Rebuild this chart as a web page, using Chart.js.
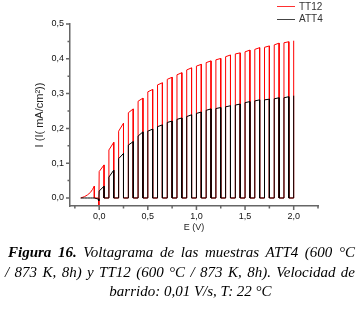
<!DOCTYPE html>
<html><head><meta charset="utf-8">
<script src="https://cdn.jsdelivr.net/npm/chart.js@4/dist/chart.umd.min.js"></script>
<style>
html,body{margin:0;padding:0;background:#fff;}
#wrap{position:relative;width:359px;height:310px;overflow:hidden;background:#fff;}
canvas{position:absolute;left:0;top:0;}
.leg{position:absolute;font-family:"Liberation Sans",Arial,sans-serif;font-size:10px;color:#333;line-height:12px;white-space:nowrap;}
.legline{position:absolute;height:0;border-top:1px solid;}
.xt{position:absolute;font-family:"Liberation Sans",Arial,sans-serif;font-size:9px;color:#222;line-height:12px;text-align:center;white-space:nowrap;}
.cap{position:absolute;font-family:"Liberation Serif","Times New Roman",serif;font-style:italic;font-size:15px;line-height:20px;color:#000;white-space:nowrap;}
.just{text-align:justify;text-align-last:justify;}
</style></head>
<body><div id="wrap">
<canvas id="c" width="359" height="240"></canvas>
<div class="legline" style="left:277px;top:6px;width:18px;border-color:#ff3030"></div>
<div class="leg" style="left:299px;top:1px">TT12</div>
<div class="legline" style="left:277px;top:19px;width:18px;border-color:#444"></div>
<div class="leg" style="left:299px;top:13px">ATT4</div>
<div class="xt" id="xtitle" style="left:0;top:221px;width:388px">E (V)</div>
<div class="cap just" style="left:8px;top:242px;width:347px"><b>Figura 16.</b> Voltagrama de las muestras ATT4 (600 °C</div>
<div class="cap just" style="left:5px;top:262px;width:350px">/ 873 K, 8h) y TT12 (600 °C / 873 K, 8h). Velocidad de</div>
<div class="cap" style="left:0;top:281px;width:381px;text-align:center">barrido: 0,01 V/s, T: 22 °C</div>
</div>
<script>
// ---- data ----
const seriesNames = ['TT12', 'ATT4'];
// initial segment before the first light pulse
const initE     = [-0.19, -0.15, -0.12, -0.09, -0.07, -0.05, -0.05, -0.01, -0.003];
const tt12Init  = [0.0, 0.004, 0.009, 0.016, 0.024, 0.034, 0.0, 0.0, -0.02];
const att4Init  = [0.0, 0.0, 0.0, 0.0, 0.0, 0.0, 0.0, -0.003, -0.008];
// potentials where the light is switched on / off
const onE  = [0.0, 0.1, 0.2, 0.3, 0.4, 0.5, 0.6, 0.7, 0.8, 0.9, 1.0, 1.1, 1.2, 1.3, 1.4, 1.5, 1.6, 1.7, 1.8, 1.9, 2.0];
const offE = [0.05, 0.15, 0.25, 0.35, 0.45, 0.55, 0.65, 0.75, 0.85, 0.95, 1.05, 1.15, 1.25, 1.35, 1.45, 1.55, 1.65, 1.75, 1.85, 1.95];
// photocurrent at start / end of each light pulse
const tt12On  = [0.076, 0.138, 0.192, 0.245, 0.278, 0.305, 0.325, 0.341, 0.354, 0.368, 0.379, 0.389, 0.397, 0.406, 0.414, 0.420, 0.427, 0.433, 0.440, 0.446, 0.452];
const tt12Off = [0.095, 0.160, 0.215, 0.256, 0.287, 0.312, 0.331, 0.347, 0.360, 0.374, 0.384, 0.394, 0.401, 0.411, 0.417, 0.425, 0.432, 0.437, 0.445, 0.449];
const att4On  = [0.020, 0.060, 0.113, 0.152, 0.178, 0.192, 0.205, 0.217, 0.226, 0.234, 0.243, 0.252, 0.257, 0.262, 0.267, 0.274, 0.279, 0.282, 0.285, 0.288, 0.294];
const att4Off = [0.034, 0.080, 0.128, 0.162, 0.190, 0.198, 0.210, 0.221, 0.230, 0.239, 0.247, 0.256, 0.260, 0.265, 0.270, 0.277, 0.282, 0.284, 0.288, 0.291];
const darkLevel = 0.0;
// ticks
const xMajor = [0.0, 0.5, 1.0, 1.5, 2.0];
const xTickLabels = ['0,0', '0,5', '1,0', '1,5', '2,0'];
const xMinor = [-0.25, 0.25, 0.75, 1.25, 1.75, 2.25];
const yMajor = [0.0, 0.1, 0.2, 0.3, 0.4, 0.5];
const yTickLabels = ['0,0', '0,1', '0,2', '0,3', '0,4', '0,5'];
const yMinor = [0.05, 0.15, 0.25, 0.35, 0.45];

function buildTrace(initY, onY, offY) {
  const pts = initE.map((e, i) => ({x: e, y: initY[i]}));
  for (let k = 0; k < onE.length; k++) {
    if (k > 0) pts.push({x: onE[k], y: darkLevel});
    pts.push({x: onE[k], y: onY[k]});
    if (k < offE.length) {
      pts.push({x: offE[k], y: offY[k]});
      pts.push({x: offE[k], y: darkLevel});
    }
  }
  return pts;
}

const axisColor = '#666';
const minorTicks = {
  id: 'minorTicks',
  afterDraw(chart) {
    const ctx = chart.ctx, xs = chart.scales.x, ys = chart.scales.y;
    ctx.save();
    ctx.strokeStyle = axisColor;
    ctx.lineWidth = 1.5;
    ctx.beginPath();
    xMajor.forEach(v => { const p = xs.getPixelForValue(v); ctx.moveTo(p, xs.top); ctx.lineTo(p, xs.top + 4); });
    xMinor.forEach(v => { const p = xs.getPixelForValue(v); ctx.moveTo(p, xs.top); ctx.lineTo(p, xs.top + 2.5); });
    yMajor.forEach(v => { const p = ys.getPixelForValue(v); ctx.moveTo(ys.right, p); ctx.lineTo(ys.right - 4, p); });
    yMinor.forEach(v => { const p = ys.getPixelForValue(v); ctx.moveTo(ys.right, p); ctx.lineTo(ys.right - 2.5, p); });
    ctx.stroke();
    ctx.restore();
  }
};

const tickFont = {family: '"Liberation Sans", Arial, sans-serif', size: 9};
new Chart(document.getElementById('c'), {
  type: 'scatter',
  data: {
    datasets: [
      {label: seriesNames[0], data: buildTrace(tt12Init, tt12On, tt12Off), borderColor: 'rgb(255,0,0)', borderWidth: 1, showLine: true, pointRadius: 0, tension: 0, order: 1},
      {label: seriesNames[1], data: buildTrace(att4Init, att4On, att4Off), borderColor: '#000', borderWidth: 1, showLine: true, pointRadius: 0, tension: 0, order: 0}
    ]
  },
  options: {
    responsive: false,
    devicePixelRatio: 1,
    animation: false,
    layout: {padding: {top: 24, right: 41, left: 0, bottom: 0}},
    plugins: {legend: {display: false}, tooltip: {enabled: false}},
    scales: {
      x: {
        type: 'linear', min: -0.3, max: 2.25,
        afterBuildTicks: s => { s.ticks = xMajor.map(v => ({value: v})); },
        afterFit: s => { s.height = 34; },
        grid: {drawOnChartArea: false, drawTicks: true, tickLength: 4, tickColor: 'rgba(0,0,0,0)'},
        border: {display: true, color: axisColor, width: 1.5},
        ticks: {font: tickFont, color: '#111', padding: 1, maxRotation: 0, autoSkip: false,
                callback: (v, i) => xTickLabels[i]},
        title: {display: false}
      },
      y: {
        type: 'linear', min: -0.023, max: 0.5,
        afterBuildTicks: s => { s.ticks = yMajor.map(v => ({value: v})); },
        afterFit: s => { s.width = 70; },
        grid: {drawOnChartArea: false, drawTicks: true, tickLength: 4, tickColor: 'rgba(0,0,0,0)'},
        border: {display: true, color: axisColor, width: 1.5},
        ticks: {font: tickFont, color: '#111', padding: 2, autoSkip: false,
                callback: (v, i) => yTickLabels[i]},
        title: {display: true, text: 'I (I( mA/cm²))', align: 'center', font: {family: '"Liberation Sans", Arial, sans-serif', size: 11}, color: '#222', padding: {top: 33, bottom: 0}}
      }
    }
  },
  plugins: [minorTicks]
});
</script>
</body></html>
